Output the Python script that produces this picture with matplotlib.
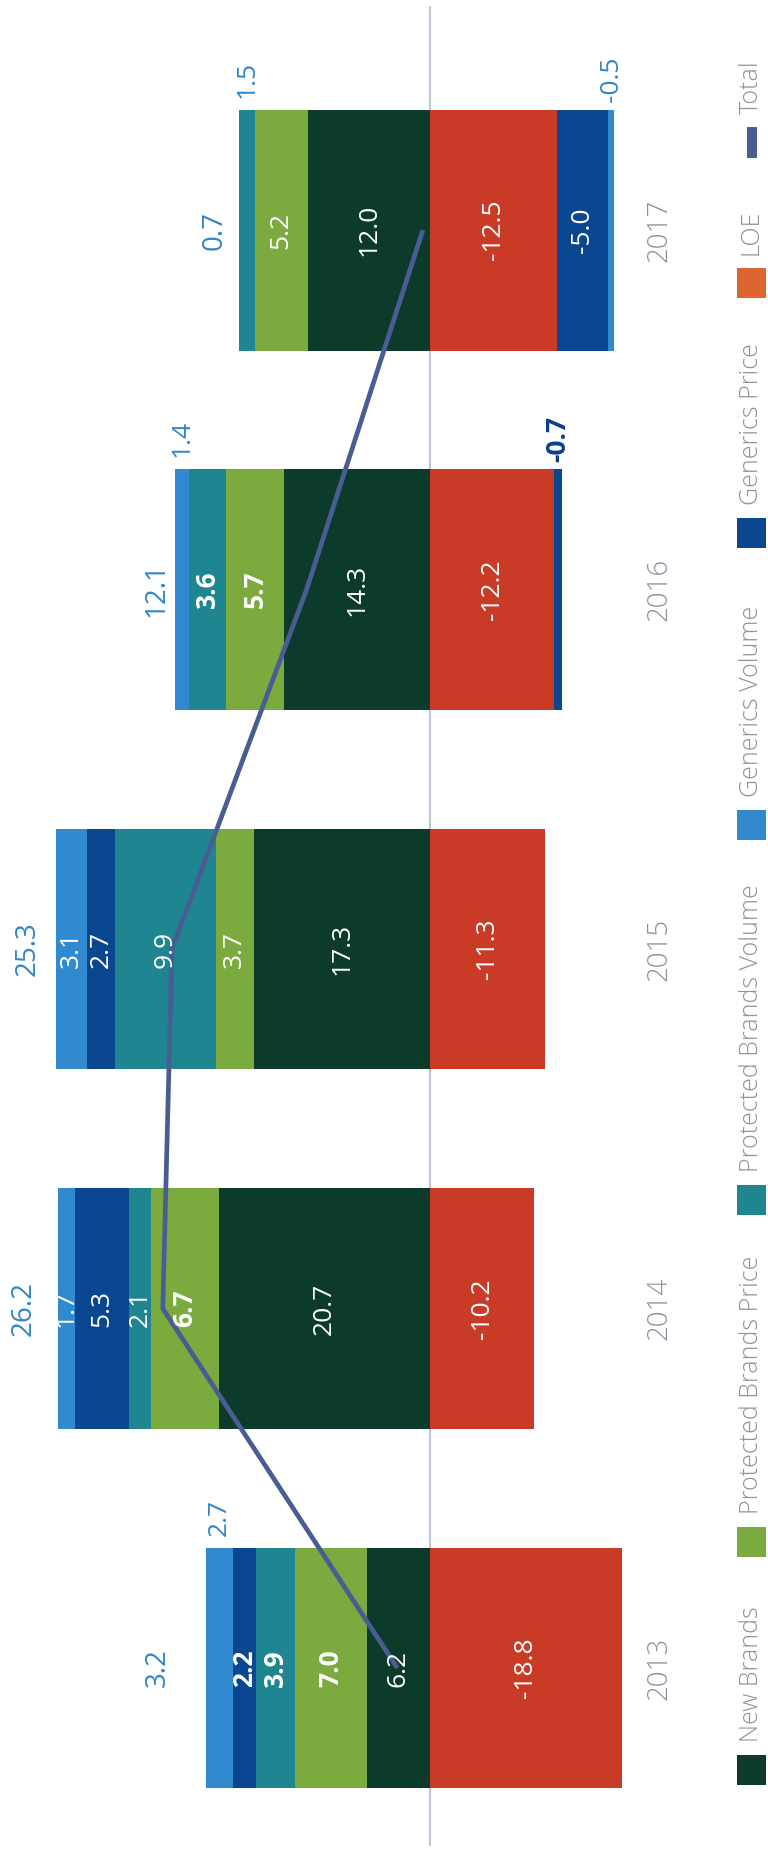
import matplotlib
matplotlib.use("Agg")
import matplotlib.pyplot as plt
from matplotlib.patches import Rectangle

plt.rcParams["font.family"] = ["Open Sans", "DejaVu Sans"]

# ---- data -------------------------------------------------------------
years = ["2013", "2014", "2015", "2016", "2017"]
new_brands = [6.2, 20.7, 17.3, 14.3, 12.0]
protected_price = [7.0, 6.7, 3.7, 5.7, 5.2]
protected_volume = [3.9, 2.1, 9.9, 3.6, 1.5]
generics_price = [2.2, 5.3, 2.7, -0.7, -5.0]
generics_volume = [2.7, 1.7, 3.1, 1.4, -0.5]
loe = [-18.8, -10.2, -11.3, -12.2, -12.5]
total = [3.2, 26.2, 25.3, 12.1, 0.7]

legend_names = ["New Brands", "Protected Brands Price", "Protected Brands Volume",
                "Generics Volume", "Generics Price", "LOE", "Total"]

# ---- styling ------------------------------------------------------------
C_NB = "#0c3b2c"
C_PBP = "#7bab3f"
C_PBV = "#1f8590"
C_GP = "#0b4790"
C_GV = "#3189cf"
C_LOE = "#c93b27"
C_LOE_KEY = "#dd6530"
C_TOTAL = "#4a5d92"
C_LABEL_BLUE = "#2f86c8"
C_YEAR = "#8a919d"
C_LEGEND_TXT = "#8d939c"

FS = 19

# stacking order: positives grow leftwards from zero, negatives rightwards
stack = [
    ("nb", new_brands, C_NB),
    ("pbp", protected_price, C_PBP),
    ("pbv", protected_volume, C_PBV),
    ("loe", loe, C_LOE),
    ("gp", generics_price, C_GP),
    ("gv", generics_volume, C_GV),
]

# labels drawn above the bar instead of inside the segment
outside = {(0, "gv"), (3, "gv"), (3, "gp"), (4, "pbv"), (4, "gv")}
bold = {(0, "gp"), (0, "pbv"), (0, "pbp"), (1, "pbp"), (3, "pbv"), (3, "pbp"), (3, "gp")}
outside_color = {(3, "gp"): "#0a3f8a"}
total_pad = [4.7, 3.3, 2.8, 1.8, 2.4]

fig = plt.figure(figsize=(7.68, 18.51), dpi=100)
fig.patch.set_facecolor("white")
ax = fig.add_axes([0, 0, 1, 1])
ax.set_xlim(42.16, -33.14)
ax.set_ylim(-0.509, 4.640)
ax.axis("off")

idx = list(range(len(years)))
bar_h = 0.67

# zero baseline
ax.axvline(0, ymin=0.003, ymax=0.996, color="#b9c5d4", lw=1.4, zorder=1)

pos = [0.0] * len(years)
neg = [0.0] * len(years)
for key, vals, color in stack:
    lefts = [pos[i] if v >= 0 else neg[i] for i, v in enumerate(vals)]
    ax.barh(idx, vals, left=lefts, height=bar_h, color=color, lw=0, zorder=2)
    for i, v in enumerate(vals):
        cx = lefts[i] + v / 2
        weight = "bold" if (i, key) in bold else "normal"
        if (i, key) in outside:
            ax.text(cx, i + bar_h / 2 + 0.085, f"{v:.1f}", rotation=90,
                    ha="center", va="center", fontsize=FS, weight=weight,
                    color=outside_color.get((i, key), C_LABEL_BLUE), zorder=5)
        else:
            ax.text(cx, i, f"{v:.1f}", rotation=90, ha="center", va="center",
                    fontsize=FS, weight=weight, color="white", zorder=5)
        if v >= 0:
            pos[i] += v
        else:
            neg[i] += v

# totals
ax.plot(total, idx, color=C_TOTAL, lw=3.4, zorder=4, solid_capstyle="butt")
for i, t in enumerate(total):
    ax.text(pos[i] + total_pad[i], i, f"{t:.1f}", rotation=90, ha="center",
            va="center", fontsize=FS + 1, color=C_LABEL_BLUE, zorder=5)

# category labels
for i, y in enumerate(years):
    ax.text(-22.55, i, y, rotation=90, ha="center", va="center",
            fontsize=FS + 1, color=C_YEAR, weight="light")

# ---- legend (pixel coordinates) ---------------------------------------
lax = fig.add_axes([0, 0, 1, 1])
lax.set_xlim(0, 768)
lax.set_ylim(1851, 0)
lax.axis("off")
lax.patch.set_visible(False)

key_colors = [C_NB, C_PBP, C_PBV, C_GV, C_GP, C_LOE_KEY, C_TOTAL]
key_tops = [1755, 1527, 1185, 810, 518, 268, 127]
for name, color, top in zip(legend_names, key_colors, key_tops):
    if name == "Total":
        lax.add_patch(Rectangle((747, top), 10, 31, color=color, lw=0))
    else:
        lax.add_patch(Rectangle((737, top), 29, 30, color=color, lw=0))
    lax.text(751, top - 13, name, rotation=90, ha="center", va="bottom",
             fontsize=FS - 1, color=C_LEGEND_TXT, weight="light")

fig.savefig("out.png", dpi=100, facecolor="white")
